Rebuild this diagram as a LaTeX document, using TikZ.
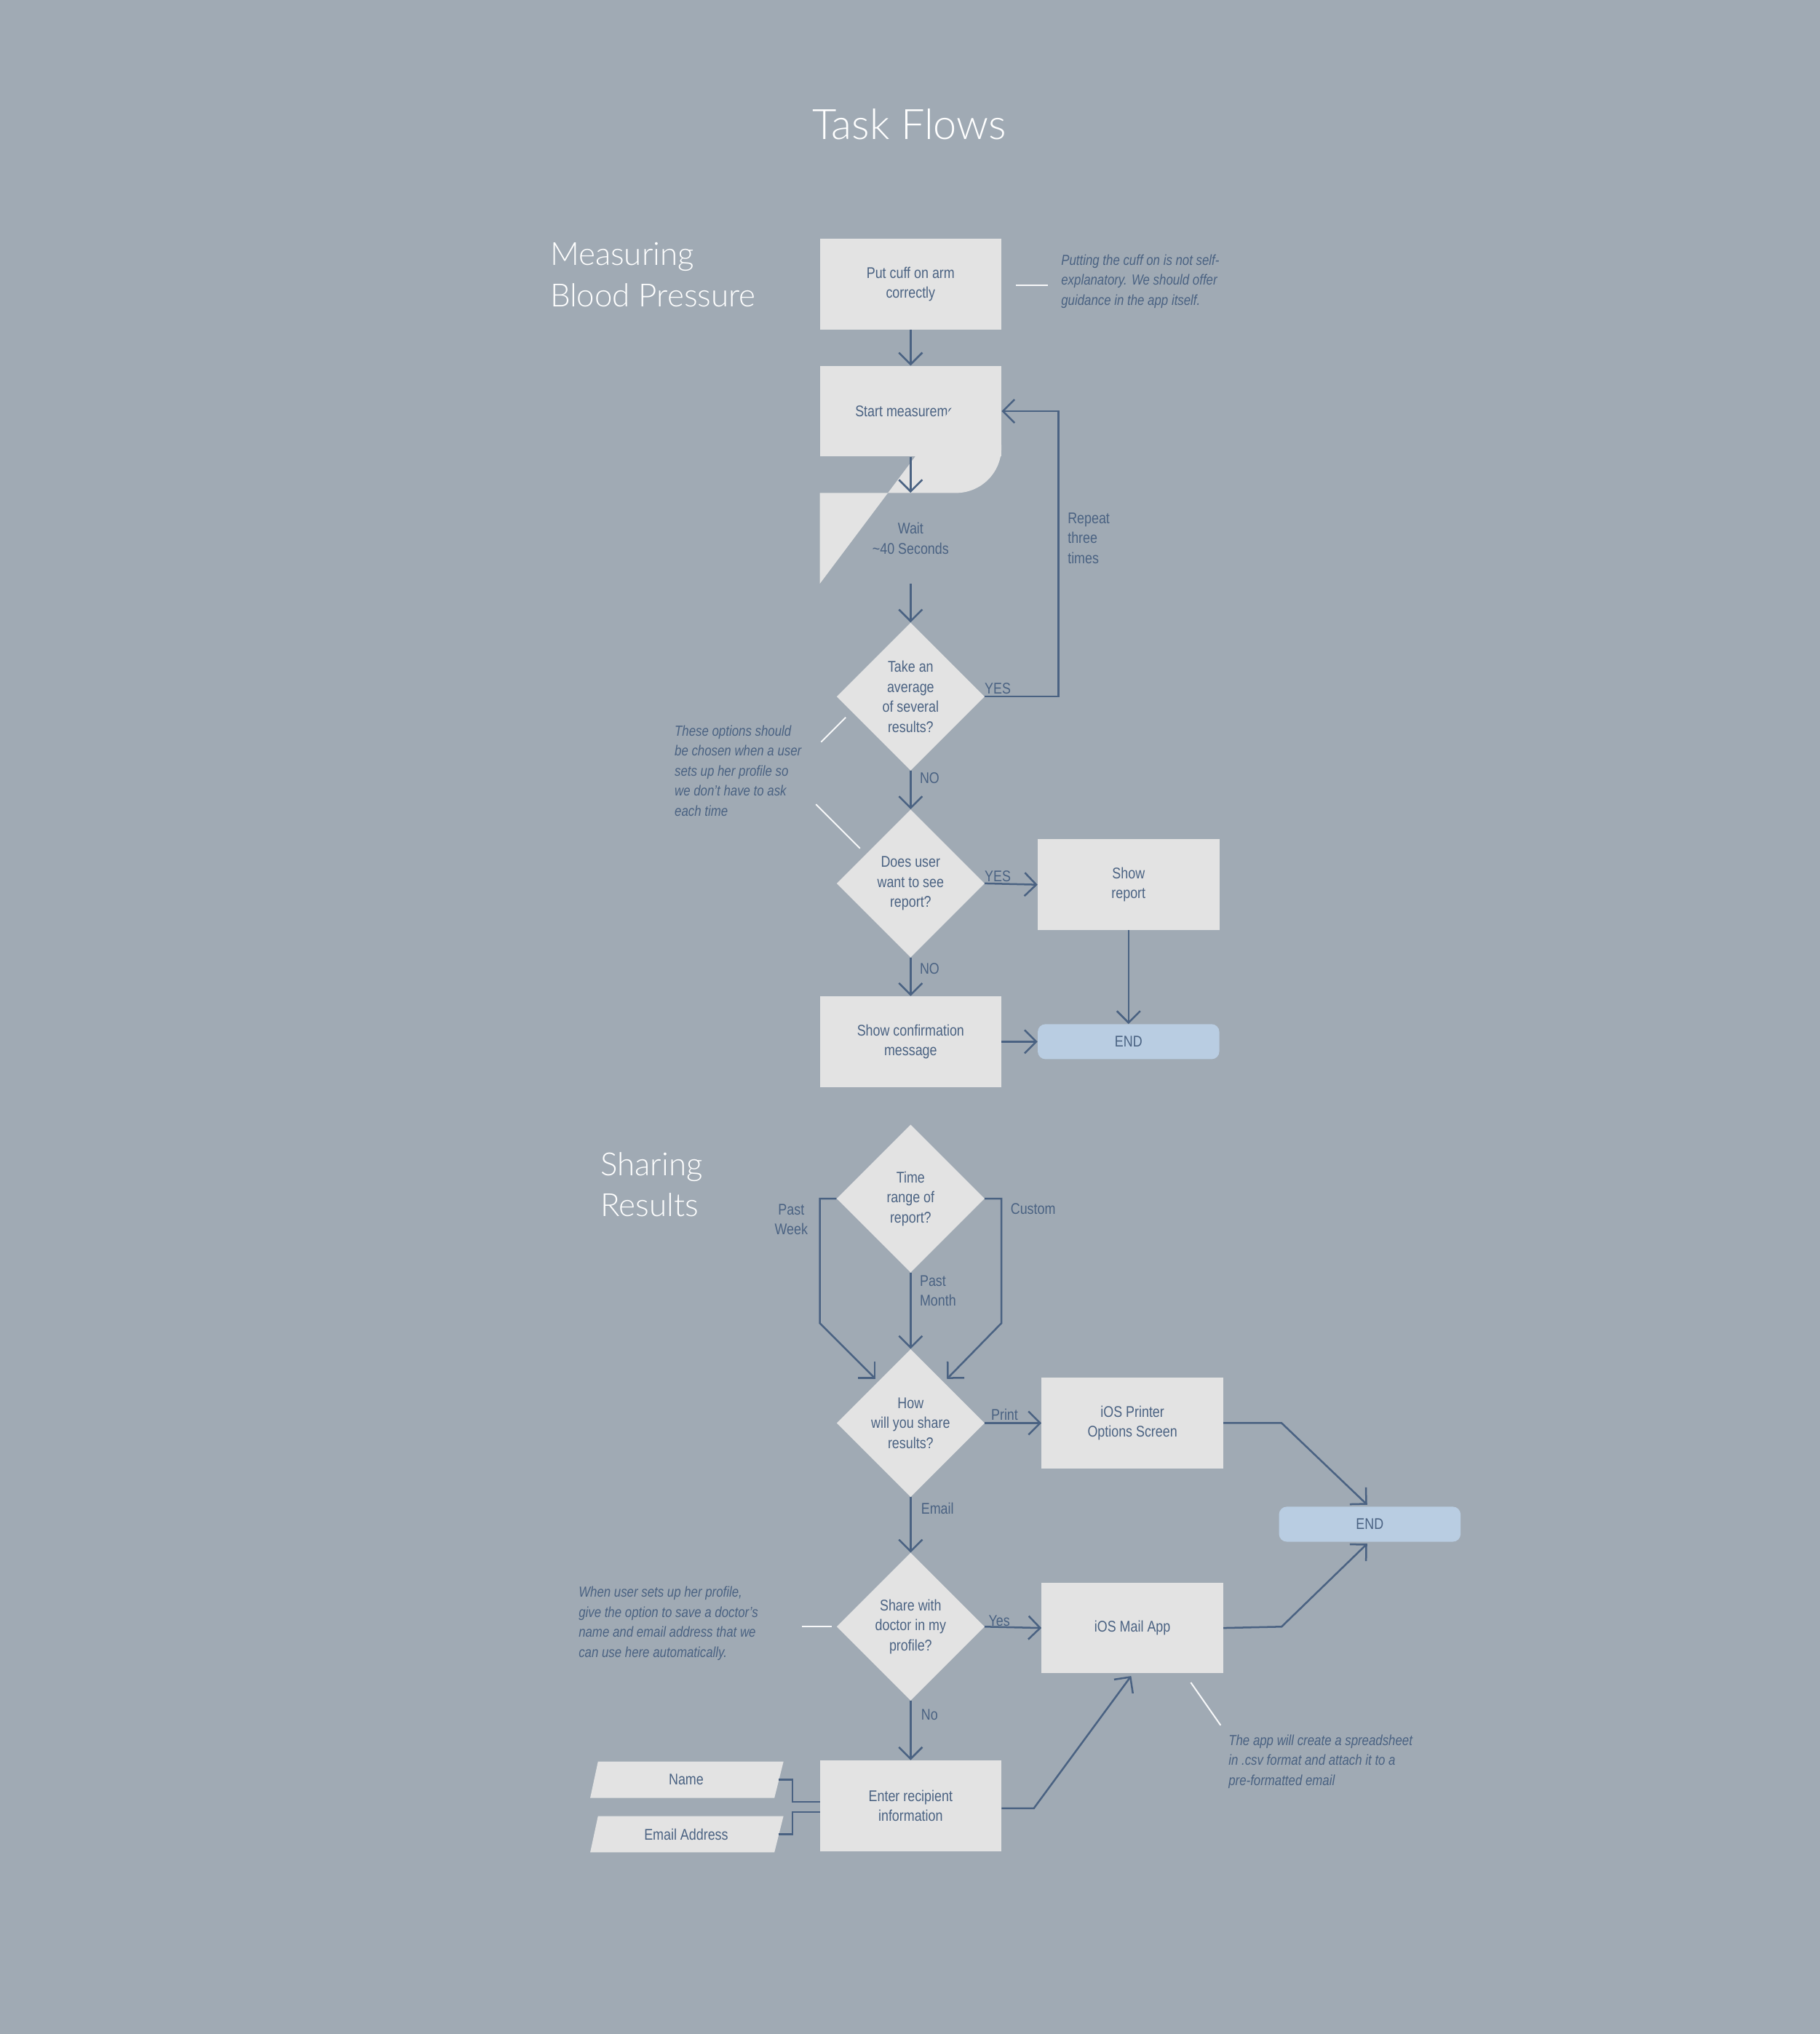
\documentclass[tikz,border=0pt]{standalone}
\usepackage{fontspec}
\setmainfont{Liberation Sans}[FakeStretch=0.84]
\newfontfamily\lightfont{Lato Light}
\usetikzlibrary{arrows.meta,shapes.geometric}
\definecolor{bg}{HTML}{A0AAB4}
\definecolor{boxc}{HTML}{E3E3E3}
\definecolor{ink}{HTML}{4A6282}
\definecolor{endc}{HTML}{B9CDE2}
\tikzset{
  box/.style={rectangle,fill=boxc,minimum width=7cm,minimum height=3.5cm,inner sep=0pt,text=ink,font=\fontsize{17}{22}\selectfont,align=center},
  endbox/.style={rectangle,rounded corners=0.3cm,fill=endc,minimum width=7cm,minimum height=1.35cm,inner sep=0pt,text=ink,font=\fontsize{17}{22}\selectfont},
  dia/.style={diamond,fill=boxc,minimum width=5.7cm,minimum height=5.7cm,inner sep=0pt},
  dtxt/.style={text=ink,font=\fontsize{17}{22}\selectfont,align=center},
  lbl/.style={text=ink,font=\fontsize{17}{22}\selectfont,align=left,inner sep=0pt},
  note/.style={text=ink,font=\itshape\fontsize{16}{22}\selectfont,align=left,inner sep=0pt,anchor=north west},
  wline/.style={draw=white!92!bg,line width=1.6pt},
  arr/.style={draw=ink,line width=2pt,-{Straight Barb[length=0.45cm,width=0.9cm,line width=2pt]}},
  ln/.style={draw=ink,line width=2pt},
  sect/.style={text=white,font=\lightfont\fontsize{35}{45}\selectfont,align=left,anchor=north west,inner sep=0pt}
}
\begin{document}
\begin{tikzpicture}[x=0.05cm,y=-0.05cm]
\fill[bg] (0,0) rectangle (1403,1568);
\useasboundingbox (0,0) rectangle (1403,1568);
\node[text=white,font=\lightfont\fontsize{46}{50}\selectfont] (title) at (701,96) {Task Flows};
\node[sect] (s1) at (424,187) {Measuring\\Blood Pressure};
\node[sect] (s2) at (463,888) {Sharing\\Results};

% measuring
\node[box] (a) at (702,219) {Put cuff on arm\\correctly};
\coordinate (n1a) at (783,220); \coordinate (n1b) at (808,220);
\draw[wline] (n1a) -- (n1b);
\node[note] (n1) at (818,196) {Putting the cuff on is not self-\\explanatory. We should offer\\guidance in the app itself.};
\node[box] (b) at (702,317) {Start measurement};
\fill[boxc] (632,380) -- (737,380) arc[start angle=90,end angle=-90,radius=35] -- (632,450) -- cycle;
\node[box,fill=none] (w) at (702,415) {Wait\\\textasciitilde40 Seconds};
\node[dia] (d1) at (702,537) {};
\node[dtxt] at (d1) {Take an\\average\\of several\\results?};
\node[dia] (d2) at (702,681) {};
\node[dtxt] at (d2) {Does user\\want to see\\report?};
\node[box] (rep) at (870,682) {Show\\report};
\node[box] (conf) at (702,803) {Show confirmation\\message};
\node[endbox] (end1) at (870,803) {END};

\draw[arr] (a) -- (b);
\draw[arr] (b) -- (w);
\draw[arr] (w) -- (d1);
\draw[arr] (d1.east) -- (816,537) -- (816,317) -- (b.east);
\node[lbl,anchor=south west] (y1) at (759,535) {YES};
\node[lbl,anchor=north west] (rt) at (823,395) {Repeat\\three\\times};
\draw[arr] (d1) -- (d2);
\node[lbl,anchor=west] (no1) at (709,600) {NO};
\draw[arr] (d2.east) -- (rep.west);
\node[lbl,anchor=south west] (y2) at (759,680) {YES};
\draw[arr] (d2) -- (conf);
\node[lbl,anchor=west] (no2) at (709,747) {NO};
\draw[arr] (conf) -- (end1);
\draw[arr] (rep) -- (end1);
\node[note] (n2) at (520,559) {These options should\\be chosen when a user\\sets up her profile so\\we don't have to ask\\each time};
\coordinate (w1a) at (633,572); \coordinate (w1b) at (652,553);
\coordinate (w2a) at (629,620); \coordinate (w2b) at (663,654);
\draw[wline] (w1a) -- (w1b);
\draw[wline] (w2a) -- (w2b);

% sharing
\node[dia] (d3) at (702,924) {};
\node[dtxt] at (d3) {Time\\range of\\report?};
\node[dia] (d4) at (702,1097) {};
\node[dtxt] at (d4) {How\\will you share\\results?};
\draw[arr] (d3.west) -- (632,924) -- (632,1020) -- (675,1063);
\draw[arr] (d3.east) -- (772,924) -- (772,1020) -- (730,1063);
\draw[arr] (d3) -- (d4);
\node[lbl,align=center] (pw) at (610,940) {Past\\Week};
\node[lbl,anchor=west] (cu) at (779,932) {Custom};
\node[lbl,anchor=north west] (pm) at (709,983) {Past\\Month};
\node[box] (pr) at (873,1097) {iOS Printer\\Options Screen};
\node[endbox] (end2) at (1056,1175) {END};
\draw[arr] (d4.east) -- (pr.west);
\node[lbl,anchor=south west] (pt) at (764,1095) {Print};
\draw[arr] (pr.east) -- (988,1097) -- (1054,1160);
\node[dia] (d5) at (702,1254) {};
\node[dtxt] at (d5) {Share with\\doctor in my\\profile?};
\draw[arr] (d4) -- (d5);
\node[lbl,anchor=west] (em) at (710,1163) {Email};
\node[box] (mail) at (873,1255) {iOS Mail App};
\draw[arr] (d5.east) -- (mail.west);
\node[lbl,anchor=south west] (ys) at (762,1254) {Yes};
\draw[arr] (mail.east) -- (988,1254) -- (1054,1190);
\node[note] (n3) at (446,1223) {When user sets up her profile,\\give the option to save a doctor's\\name and email address that we\\can use here automatically.};
\coordinate (w3a) at (618,1254); \coordinate (w3b) at (641,1254);
\draw[wline] (w3a) -- (w3b);
\node[box] (rec) at (702,1392) {Enter recipient\\information};
\draw[arr] (d5) -- (rec);
\node[lbl,anchor=west] (no3) at (710,1322) {No};
\draw[arr] (rec.east) ++(0,2) -- (797,1394) -- (872,1292);
\coordinate (w4a) at (918,1297); \coordinate (w4b) at (941,1330);
\draw[wline] (w4a) -- (w4b);
\node[note] (n4) at (947,1337) {The app will create a spreadsheet\\in .csv format and attach it to a\\pre-formatted email};
\fill[boxc] (461,1358) -- (604,1358) -- (597,1386) -- (455,1386) -- cycle;
\fill[boxc] (461,1400) -- (604,1400) -- (597,1428) -- (455,1428) -- cycle;
\node[dtxt] (nm) at (529,1372) {Name};
\node[dtxt] (ea) at (529,1414) {Email Address};
\coordinate (nmr) at (600,1372); \coordinate (ear) at (600,1414);
\draw[ln] (nmr) -- (611,1372) -- (611,1389) -- (632,1389);
\draw[ln] (ear) -- (611,1414) -- (611,1397) -- (632,1397);
\end{tikzpicture}
\end{document}
